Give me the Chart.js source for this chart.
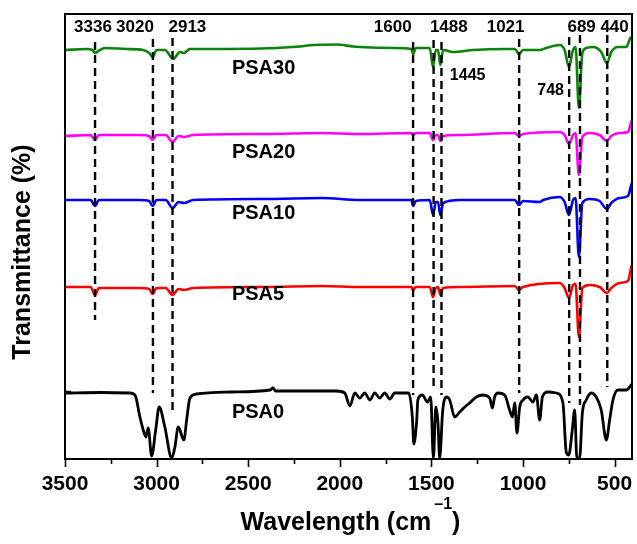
<!DOCTYPE html>
<html>
<head>
<meta charset="utf-8">
<script src="https://cdn.jsdelivr.net/npm/chart.js@4.4.0/dist/chart.umd.min.js"></script>
<style>
    html, body { margin: 0; padding: 0; background: #fff; }
    #wrap { position: relative; width: 637px; height: 544px; }
</style>
</head>
<body>
<div id="wrap"><canvas id="ftir"></canvas></div>
<script>
// FTIR spectra, wavenumber in cm-1, transmittance stacked with an offset per sample
const psa0Wn = [3500,3300,3145,3118,3091,3073,3058,3046,3027,3005,2986,2955,2918,2900,2882,2851,2836,2818,2782,2600,2380,2365,2350,2100,2018,1973,1945,1918,1891,1864,1836,1809,1782,1755,1727,1700,1662,1624,1604,1596,1580,1574,1549,1522,1504,1489,1476,1464,1455,1438,1418,1400,1373,1345,1318,1291,1255,1220,1182,1167,1155,1136,1100,1073,1058,1045,1033,1018,1000,973,946,927,909,894,864,818,782,764,750,731,718,706,691,676,655,627,600,573,545,527,509,482,436,409,405];
const psa0T = [66,66.5,66,64,42,29,22,31,3,29,52,32,1,12,32,19,39,61,65,67,69,71,68,68,68,66,53,66,61,66,59,66,61,66,60,66,66,66,42,15,39,59,64,57,62,1,52,36,1,49,62,59,42,47,52,56,62,64,61,51,62,66,64,49,42,56,26,52,59,62,57,64,39,62,67,66,56,7,4,29,49,1,1,46,59,66,62,49,19,39,59,69,69,74,75];

const psa5Wn = [3500,3360,3336,3315,3100,3040,3022,3000,2950,2913,2880,2850,2800,2400,2100,1891,1609,1600,1585,1509,1491,1476,1464,1451,1436,1345,1045,1022,1000,800,773,749,727,713,695,676,636,582,542,518,473,427,409,405];
const psa5T = [172,172,164,171,171,170,165,171,171,164,170,169,171,172,173,172,172,169,172,172,162,171,172,164,171,172,173,169,172,176,171,161,174,175,122,171,174,172,166,171,176,178,192,194];

const psa10Wn = [3500,3360,3336,3315,3100,3040,3022,3000,2950,2913,2880,2850,2800,2400,2100,1891,1609,1600,1585,1509,1491,1476,1464,1451,1436,1345,1045,1022,1000,909,890,800,773,749,727,713,695,676,636,582,542,518,473,427,409,405];
const psa10T = [259,259,253,259,259,258,253,259,259,251,257,256,259,260,261,259,259,253,258,259,244,257,257,244,256,259,259,254,258,257,259,262,257,244,259,261,202,256,260,258,250,256,261,263,274,276];

const psa20Wn = [3500,3360,3336,3315,3100,3040,3022,3000,2950,2913,2880,2850,2800,2400,2100,1891,1609,1600,1585,1509,1491,1476,1464,1451,1436,1345,1045,1022,1000,800,773,749,727,713,695,676,636,582,542,518,473,427,409,405];
const psa20T = [323,324,319,324,324,323,319,324,324,317,323,322,324,325,326,325,326,324,326,326,319,324,324,318,323,324,326,323,325,327,324,315,324,326,284,322,326,324,318,323,326,327,337,339];

const psa30Wn = [3500,3382,3350,3336,3318,3282,3164,3073,3040,3022,3000,2955,2909,2873,2851,2818,2618,2345,2218,2145,2018,1927,1891,1709,1609,1600,1585,1509,1491,1476,1464,1451,1436,1382,1273,1091,1045,1022,1000,909,873,800,773,749,727,713,695,676,655,618,573,542,518,482,436,414,405];
const psa30T = [409,410,409,406,408,411,410,409,406,402,409,409,400,407,406,410,410,411,412.5,414,414.5,412.5,412,411,410,405,411,411,392,409,409,394,409,407,409,410,410,405,409,409,411,414,409,392,409,412,351,406,411,412,407,396,407,412,412,421,422];

// marked bands: where each dashed line sits, its text, and how far it runs
const peakWn = [3336, 3020, 2913, 1600, 1488, 1445, 1021, 748, 689, 540];
const peakText = ['3336', '3020', '2913', '1600', '1488', '1445', '1021', '748', '689', '440'];
const peakTop = [417, 420, 421, 417, 419, 417, 420, 422, 424, 424];
const peakBottom = [139, 66, 49, 64, 69, 64, 66, 56, 54, 72];

const xMajorTicks = [3500, 3000, 2500, 2000, 1500, 1000, 500];
const xMinorTicks = [3250, 2750, 2250, 1750, 1250, 750];
const yTicks = [68];

const samples = [
    { name: 'PSA30', wn: psa30Wn, t: psa30T, color: '#0a840a', width: 2.6 },
    { name: 'PSA20', wn: psa20Wn, t: psa20T, color: '#ff00ff', width: 2.6 },
    { name: 'PSA10', wn: psa10Wn, t: psa10T, color: '#0000ff', width: 2.6 },
    { name: 'PSA5',  wn: psa5Wn,  t: psa5T,  color: '#ff0000', width: 2.6 },
    { name: 'PSA0',  wn: psa0Wn,  t: psa0T,  color: '#000000', width: 2.8 }
];

// text placement (x in cm-1, y in plot units)
const sampleLabelWn = 2589;
const sampleLabelY = [390.7, 307, 246, 165, 46.5];
const peakLabelWn = [3347, 3118, 2832, 1711, 1405, 1302, 1095, 849, 680, 500];
const peakLabelY = [431.5, 431.5, 431.5, 431.5, 431.5, 383, 431.5, 368, 431.5, 431.5];

const FONT = '"Liberation Sans", Arial, sans-serif';

const datasets = [];
peakWn.forEach((p, i) => {
    datasets.push({
        data: [{ x: p, y: peakTop[i] }, { x: p, y: peakBottom[i] }],
        borderColor: '#000',
        borderWidth: 2.4,
        borderDash: [8, 5],
        pointRadius: 0,
        order: 0
    });
});
samples.forEach(s => {
    datasets.push({
        label: s.name,
        data: s.wn.map((w, i) => ({ x: w, y: s.t[i] })),
        borderColor: s.color,
        borderWidth: s.width,
        pointRadius: 0,
        cubicInterpolationMode: 'monotone',
        borderJoinStyle: 'round',
        order: 1
    });
});

const decorations = {
    id: 'decorations',
    afterDatasetsDraw(chart) {
        const ctx = chart.ctx;
        const { left, right, top, bottom } = chart.chartArea;
        const xs = chart.scales.x;
        const ys = chart.scales.y;
        ctx.save();

        // frame
        ctx.strokeStyle = '#000';
        ctx.lineWidth = 2;
        ctx.strokeRect(left, top, right - left, bottom - top);

        // x ticks, pointing out
        ctx.lineWidth = 1.6;
        ctx.beginPath();
        xMajorTicks.forEach(v => {
            const px = Math.round(xs.getPixelForValue(v)) + 0.5;
            ctx.moveTo(px, bottom); ctx.lineTo(px, bottom + 8);
        });
        xMinorTicks.forEach(v => {
            const px = Math.round(xs.getPixelForValue(v)) + 0.5;
            ctx.moveTo(px, bottom); ctx.lineTo(px, bottom + 5);
        });
        yTicks.forEach(v => {
            const py = Math.round(ys.getPixelForValue(v)) + 0.5;
            ctx.moveTo(left, py); ctx.lineTo(left + 6, py);
        });
        ctx.stroke();

        ctx.fillStyle = '#000';
        ctx.textBaseline = 'middle';

        // tick labels
        ctx.font = 'bold 21px ' + FONT;
        ctx.textAlign = 'center';
        xMajorTicks.forEach(v => {
            ctx.fillText(String(v), xs.getPixelForValue(v), 484.5);
        });

        // band labels
        peakText.forEach((t, i) => {
            const small = t === '1445' || t === '748';
            ctx.font = 'bold ' + (small ? 16 : 17) + 'px ' + FONT;
            ctx.fillText(t, xs.getPixelForValue(peakLabelWn[i]), ys.getPixelForValue(peakLabelY[i]));
        });

        // sample names
        ctx.font = 'bold 20px ' + FONT;
        ctx.textAlign = 'left';
        samples.forEach((s, i) => {
            ctx.fillText(s.name, xs.getPixelForValue(sampleLabelWn), ys.getPixelForValue(sampleLabelY[i]));
        });

        // x title with superscript
        ctx.textBaseline = 'alphabetic';
        const mainFont = 'bold 25px ' + FONT;
        const supFont = 'bold 16px ' + FONT;
        ctx.font = mainFont;
        const part1 = 'Wavelength (cm';
        const w1 = ctx.measureText(part1).width;
        const w3 = ctx.measureText(')').width;
        ctx.font = supFont;
        const sup = '\u2013' + '1';
        const w2 = ctx.measureText(sup).width;
        const gap = 3;
        let x0 = (left + right) / 2 + 2 - (w1 + gap + w2 + w3) / 2;
        ctx.font = mainFont;
        ctx.fillText(part1, x0, 530);
        ctx.font = supFont;
        ctx.fillText(sup, x0 + w1 + gap, 509);
        ctx.font = mainFont;
        ctx.fillText(')', x0 + w1 + gap + w2, 530);

        // y title
        ctx.translate(23, 252);
        ctx.rotate(-Math.PI / 2);
        ctx.textAlign = 'center';
        ctx.textBaseline = 'middle';
        ctx.font = 'bold 25px ' + FONT;
        ctx.fillText('Transmittance (%)', 0, 0);

        ctx.restore();
    }
};

new Chart(document.getElementById('ftir'), {
    type: 'line',
    data: { datasets: datasets },
    options: {
        responsive: true,
        maintainAspectRatio: false,
        animation: false,
        devicePixelRatio: 1,
        layout: { padding: { left: 65, right: 5, top: 14, bottom: 85 } },
        plugins: { legend: { display: false }, tooltip: { enabled: false } },
        scales: {
            x: { type: 'linear', reverse: true, min: 405, max: 3500, display: false },
            y: { type: 'linear', min: 0, max: 445, display: false }
        }
    },
    plugins: [decorations]
});
</script>
</body>
</html>
